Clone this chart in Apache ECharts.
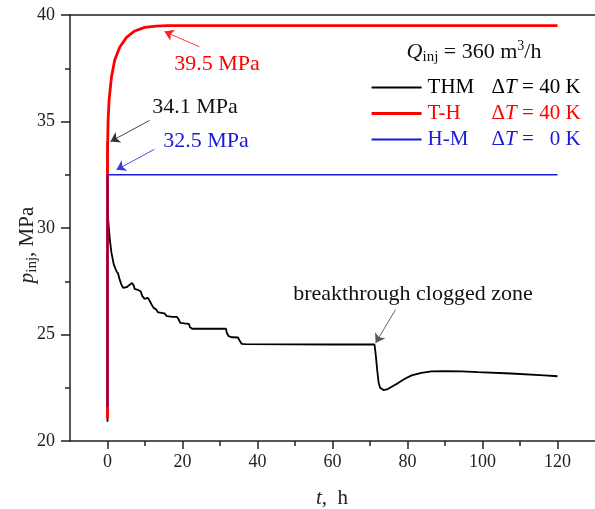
<!DOCTYPE html>
<html>
<head>
<meta charset="utf-8">
<script src="https://cdn.jsdelivr.net/npm/echarts@6/dist/echarts.min.js"></script>
<style>
html, body { margin: 0; padding: 0; background: #fff; }
#chart { width: 595px; height: 509px; }
</style>
</head>
<body>
<div id="chart"></div>
<script>
// Injection pressure p_inj (MPa) versus time t (h)
const thmTime = [0, 0, 0.08, 0.18, 0.62, 1.06, 1.68, 2.39, 2.83, 3.1, 3.71, 4.16, 4.6, 5.2, 5.93, 6.54, 6.99, 7.25, 7.87, 8.4, 8.84, 9.29, 9.9, 10.8, 11.2, 11.76, 12.29, 13.0, 13.4, 14.3, 15.2, 15.8, 17.4, 18.5, 19.0, 19.4, 20.5, 21.7, 22.0, 22.6, 26.3, 31.6, 31.8, 32.3, 33.2, 34.8, 35.3, 35.8, 36.9, 48.4, 60, 71.2, 71.5, 71.9, 72.3, 72.7, 73.6, 74.5, 75.8, 77.6, 79.3, 81.1, 83.7, 86.4, 89.9, 94.4, 98.8, 107.6, 116.5, 120];
const thmPressure = [20.9, 34.1, 31.6, 30.39, 29.45, 28.83, 28.28, 27.97, 27.86, 27.66, 27.34, 27.19, 27.14, 27.23, 27.34, 27.42, 27.3, 27.14, 27.11, 27.19, 27.03, 26.8, 26.67, 26.72, 26.64, 26.41, 26.25, 26.17, 26.05, 26.02, 25.99, 25.86, 25.83, 25.83, 25.7, 25.55, 25.52, 25.5, 25.34, 25.27, 25.27, 25.28, 25.08, 24.92, 24.87, 24.86, 24.69, 24.56, 24.55, 24.54, 24.53, 24.53, 24.1, 23.36, 22.73, 22.5, 22.39, 22.42, 22.55, 22.73, 22.92, 23.08, 23.2, 23.27, 23.28, 23.27, 23.23, 23.17, 23.08, 23.04];

const thTime = [0, 0, 0.15, 0.42, 1.06, 1.95, 3.29, 5.07, 7.27, 9.93, 13.0, 16, 120];
const thPressure = [21.06, 33.5, 35.0, 36.0, 37.1, 37.9, 38.5, 38.95, 39.25, 39.42, 39.48, 39.5, 39.5];

const hmTime = [0, 0, 120];
const hmPressure = [21.6, 32.5, 32.5];

const seriesNames = ['THM', 'T-H', 'H-M'];
const seriesColors = ['#000000', '#ff0000', '#1a1ad6'];
const seriesWidths = [1.8, 2.8, 1.6];
const deltaT = [40, 40, 0];
const injectionRate = 360;

const xMajorTicks = [0, 20, 40, 60, 80, 100, 120];
const xMinorTicks = [10, 30, 50, 70, 90, 110];

const FONT = '"Liberation Serif", "Times New Roman", serif';
const AXIS_COLOR = '#222';

const pairs = (xs, ys) => xs.map((x, i) => [x, ys[i]]);
const peak = arr => Math.max(...arr).toFixed(1);

// legend rich styles, one set per row colour
const legendRich = {};
seriesColors.forEach((c, i) => {
  legendRich['n' + i] = { color: c, fontFamily: FONT, fontSize: 21, width: 64, padding: [0, 0, 0, 1], lineHeight: 22 };
  legendRich['d' + i] = { color: c, fontFamily: FONT, fontSize: 21, lineHeight: 22 };
  legendRich['t' + i] = { color: c, fontFamily: FONT, fontSize: 21, fontStyle: 'italic', lineHeight: 22 };
});

function arrow(from, to, color) {
  return {
    silent: true,
    symbol: ['none', 'arrow'],
    symbolSize: 9,
    label: { show: false },
    lineStyle: { color: color, width: 0.9, type: 'solid' },
    emphasis: { disabled: true },
    animation: false,
    data: [[{ coord: from }, { coord: to }]]
  };
}

const chart = echarts.init(document.getElementById('chart'), null, { renderer: 'canvas' });

const gridRect = { left: 70, right: -3, top: 15, bottom: 68 };

const option = {
  animation: false,
  backgroundColor: '#fff',
  grid: [
    Object.assign({}, gridRect),
    Object.assign({}, gridRect)
  ],
  xAxis: [
    {
      gridIndex: 0, type: 'value', position: 'bottom', min: -10, max: 130,
      axisLine: { show: true, lineStyle: { color: AXIS_COLOR, width: 1.5 } },
      axisTick: { show: true, customValues: xMajorTicks, length: 8, inside: false, lineStyle: { color: AXIS_COLOR, width: 1.5 } },
      axisLabel: { show: true, customValues: xMajorTicks, margin: 12, color: AXIS_COLOR, fontFamily: FONT, fontSize: 18 },
      splitLine: { show: false }
    },
    {
      gridIndex: 0, type: 'value', position: 'top', min: -10, max: 130,
      axisLine: { show: true, onZero: false, lineStyle: { color: AXIS_COLOR, width: 1.5 } },
      axisTick: { show: false }, axisLabel: { show: false }, splitLine: { show: false }
    },
    {
      gridIndex: 1, type: 'value', position: 'bottom', min: -10, max: 130,
      axisLine: { show: false },
      axisTick: { show: true, customValues: xMinorTicks, length: 5, lineStyle: { color: AXIS_COLOR, width: 1.5 } },
      axisLabel: { show: false }, splitLine: { show: false }
    }
  ],
  yAxis: [
    {
      gridIndex: 0, type: 'value', min: 20, max: 40, interval: 5,
      axisLine: { show: true, onZero: false, lineStyle: { color: AXIS_COLOR, width: 1.5 } },
      axisTick: { show: true, length: 9, lineStyle: { color: AXIS_COLOR, width: 1.5 } },
      minorTick: { show: true, splitNumber: 2, length: 5, lineStyle: { color: AXIS_COLOR, width: 1.5 } },
      axisLabel: { margin: 15, color: AXIS_COLOR, fontFamily: FONT, fontSize: 18 },
      splitLine: { show: false }, minorSplitLine: { show: false }
    },
    { gridIndex: 1, type: 'value', min: 20, max: 40, show: false }
  ],
  legend: {
    orient: 'vertical',
    left: 365,
    top: 72,
    itemWidth: 50,
    itemHeight: 14,
    itemGap: 5,
    selectedMode: false,
    itemStyle: { opacity: 0 },
    data: seriesNames.map((name, i) => ({
      name: name,
      lineStyle: { color: seriesColors[i], width: seriesWidths[i] + 0.4 }
    })),
    textStyle: { fontFamily: FONT, fontSize: 21, rich: legendRich },
    formatter: name => {
      const i = seriesNames.indexOf(name);
      const dt = deltaT[i] < 10 ? '  ' + deltaT[i] : String(deltaT[i]);
      return `{n${i}|${name}}{d${i}|Δ}{t${i}|T}{d${i}| = ${dt} K}`;
    }
  },
  series: [
    {
      name: seriesNames[0], type: 'line', xAxisIndex: 0, yAxisIndex: 0,
      data: pairs(thmTime, thmPressure), symbol: 'none', smooth: false,
      lineStyle: { color: seriesColors[0], width: seriesWidths[0] }, itemStyle: { color: seriesColors[0] },
      markLine: {
        silent: true, symbol: ['none', 'arrow'], symbolSize: 9, label: { show: false },
        emphasis: { disabled: true }, animation: false,
        data: [
          [{ coord: [11.2, 35.05], lineStyle: { color: '#333', width: 0.9, type: 'solid' } }, { coord: [0.8, 34.06] }],
          [{ coord: [76.8, 26.17], lineStyle: { color: '#555', width: 0.9, type: 'solid' } }, { coord: [71.5, 24.6] }]
        ]
      }
    },
    {
      name: seriesNames[1], type: 'line', xAxisIndex: 0, yAxisIndex: 0,
      data: pairs(thTime, thPressure), symbol: 'none', smooth: false,
      lineStyle: { color: seriesColors[1], width: seriesWidths[1] }, itemStyle: { color: seriesColors[1] },
      markLine: arrow([24.5, 38.51], [15.2, 39.22], '#ff2020')
    },
    {
      name: seriesNames[2], type: 'line', xAxisIndex: 0, yAxisIndex: 0,
      data: pairs(hmTime, hmPressure), symbol: 'none', smooth: false,
      lineStyle: { color: seriesColors[2], width: seriesWidths[2] }, itemStyle: { color: seriesColors[2] },
      markLine: arrow([12.55, 33.7], [2.4, 32.73], '#3a3ae0')
    }
  ],
  graphic: [
    // y-axis title
    {
      type: 'text', x: 27, y: 245, rotation: Math.PI / 2,
      style: {
        text: '{p|p}{s|inj}{r|, MPa}', align: 'center', verticalAlign: 'middle',
        rich: {
          p: { fontFamily: FONT, fontSize: 21, fontStyle: 'italic', lineHeight: 26, fill: AXIS_COLOR },
          s: { fontFamily: FONT, fontSize: 15, lineHeight: 15, verticalAlign: 'bottom', fill: AXIS_COLOR },
          r: { fontFamily: FONT, fontSize: 21, lineHeight: 26, fill: AXIS_COLOR }
        }
      }
    },
    // x-axis title
    {
      type: 'text', x: 332, y: 498,
      style: {
        text: '{i|t}{r|,  h}', align: 'center', verticalAlign: 'middle',
        rich: {
          i: { fontFamily: FONT, fontSize: 21, fontStyle: 'italic', fill: AXIS_COLOR },
          r: { fontFamily: FONT, fontSize: 21, fill: AXIS_COLOR }
        }
      }
    },
    // injection rate
    {
      type: 'text', x: 474, y: 52,
      style: {
        text: `{q|Q}{s|inj}{m| = ${injectionRate} m}{u|3}{m|/h}`, align: 'center', verticalAlign: 'middle',
        rich: {
          q: { fontFamily: FONT, fontSize: 22, fontStyle: 'italic', lineHeight: 26, fill: '#111' },
          s: { fontFamily: FONT, fontSize: 15, lineHeight: 14, verticalAlign: 'bottom', fill: '#111' },
          m: { fontFamily: FONT, fontSize: 22, lineHeight: 26, fill: '#111' },
          u: { fontFamily: FONT, fontSize: 14, lineHeight: 13, verticalAlign: 'top', fill: '#111' }
        }
      }
    },
    {
      type: 'text', x: 217, y: 64,
      style: { text: `${peak(thPressure)} MPa`, fill: '#ff0000', fontFamily: FONT, fontSize: 22, align: 'center', verticalAlign: 'middle' }
    },
    {
      type: 'text', x: 195, y: 107,
      style: { text: `${peak(thmPressure)} MPa`, fill: '#111', fontFamily: FONT, fontSize: 22, align: 'center', verticalAlign: 'middle' }
    },
    {
      type: 'text', x: 206, y: 141,
      style: { text: `${peak(hmPressure)} MPa`, fill: seriesColors[2], fontFamily: FONT, fontSize: 22, align: 'center', verticalAlign: 'middle' }
    },
    {
      type: 'text', x: 413, y: 294,
      style: { text: 'breakthrough clogged zone', fill: '#111', fontFamily: FONT, fontSize: 22, align: 'center', verticalAlign: 'middle' }
    }
  ]
};

chart.setOption(option);
</script>
</body>
</html>
